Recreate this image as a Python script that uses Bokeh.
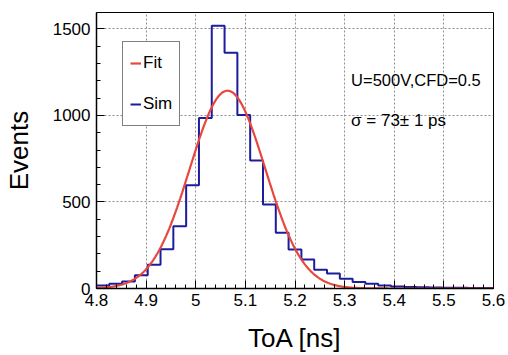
import numpy as np
from bokeh.plotting import figure
from bokeh.models import (Range1d, FixedTicker, CustomJSTickFormatter, Legend,
                          LegendItem, Label)
from bokeh.embed import file_html
from bokeh.resources import INLINE

# ---------------- data ----------------
toa_min, toa_max = 4.8, 5.6
sim_counts = [17, 27, 41, 77, 137, 227, 360, 597, 986, 1519, 1362, 1002, 740,
              486, 322, 225, 167, 109, 86, 56, 38, 28, 18, 12, 9, 7, 6, 5, 4, 3, 3]
fit_amp, fit_mean, fit_sigma = 1143.0, 5.064, 0.076   # Gaussian fit parameters
x_ticks = [4.8, 4.9, 5.0, 5.1, 5.2, 5.3, 5.4, 5.5, 5.6]
x_tick_labels = ["4.8", "4.9", "5", "5.1", "5.2", "5.3", "5.4", "5.5", "5.6"]
y_ticks = [0, 500, 1000, 1500]
y_max = 1595
note1 = "U=500V,CFD=0.5"
note2 = "σ = 73± 1 ps"

FONT = "Liberation Sans"

edges = np.linspace(toa_min, toa_max, len(sim_counts) + 1)
step_y = list(sim_counts) + [sim_counts[-1]]
fit_x = np.linspace(toa_min, toa_max, 400)
fit_y = fit_amp * np.exp(-0.5 * ((fit_x - fit_mean) / fit_sigma) ** 2)

p = figure(width=508, height=355, output_backend="svg", toolbar_location=None,
           x_range=Range1d(toa_min, toa_max), y_range=Range1d(0, y_max),
           min_border_left=91, min_border_right=15, min_border_top=12,
           min_border_bottom=67)
p.background_fill_color = "white"
p.border_fill_color = "white"
p.outline_line_color = "black"
p.outline_line_width = 1

# histogram & fit
r_sim = p.step(edges, step_y, mode="after", line_color="#1c1c9c", line_width=2)
r_fit = p.line(fit_x, fit_y, line_color="#e8473d", line_width=2.2)

# axes
x_minor = [round(toa_min + 0.02 * i, 3) for i in range(41)]
y_minor = list(range(0, y_max, 100))
p.xaxis.ticker = FixedTicker(ticks=x_ticks, minor_ticks=x_minor)
p.yaxis.ticker = FixedTicker(ticks=y_ticks, minor_ticks=y_minor)
p.xaxis.formatter = CustomJSTickFormatter(
    args=dict(tvals=x_ticks, tlabs=x_tick_labels),
    code="""
    let best = 0;
    for (let i = 0; i < tvals.length; i++) {
        if (Math.abs(tvals[i] - tick) < Math.abs(tvals[best] - tick)) best = i;
    }
    return tlabs[best];
    """)
for ax in (p.xaxis[0], p.yaxis[0]):
    ax.axis_line_color = "black"
    ax.axis_line_width = 1.5
    ax.major_tick_in = 8
    ax.major_tick_out = 0
    ax.minor_tick_in = 4
    ax.minor_tick_out = 0
    ax.major_tick_line_color = "black"
    ax.minor_tick_line_color = "black"
    ax.major_label_text_font = FONT
    ax.major_label_text_font_size = "17px"
    ax.major_label_text_color = "black"
    ax.axis_label_text_font = FONT
    ax.axis_label_text_font_style = "normal"
    ax.axis_label_text_color = "black"

p.xaxis.axis_label = "ToA [ns]"
p.xaxis.axis_label_text_font_size = "26px"
p.xaxis.major_label_standoff = 5
p.xaxis.axis_label_standoff = 14
p.yaxis.axis_label = "Events"
p.yaxis.axis_label_text_font_size = "26px"
p.yaxis.major_label_standoff = 6
p.yaxis.axis_label_standoff = 16

# grid
for g in (p.xgrid[0], p.ygrid[0]):
    g.grid_line_color = "#8f8f8f"
    g.grid_line_dash = "2 2"
    g.grid_line_width = 1

# legend
legend = Legend(items=[LegendItem(label="Fit", renderers=[r_fit]),
                       LegendItem(label="Sim", renderers=[r_sim])],
                location=(26, 162))
legend.label_text_font = FONT
legend.label_text_font_size = "17px"
legend.label_text_color = "black"
legend.glyph_width = 11
legend.glyph_height = 28
legend.label_height = 28
legend.label_standoff = 2
legend.spacing = 13
legend.padding = 7
legend.border_line_color = "black"
legend.border_line_width = 1
legend.background_fill_alpha = 1.0
p.add_layout(legend, "center")

# annotations
p.add_layout(Label(x=5.313, y=1204, text=note1, text_font=FONT,
                   text_font_size="16.5px", text_baseline="alphabetic",
                   text_color="black"))
p.add_layout(Label(x=5.313, y=971, text=note2, text_font=FONT,
                   text_font_size="17px", text_baseline="alphabetic",
                   text_color="black"))

open("out.html", "w").write(file_html(p, INLINE))
